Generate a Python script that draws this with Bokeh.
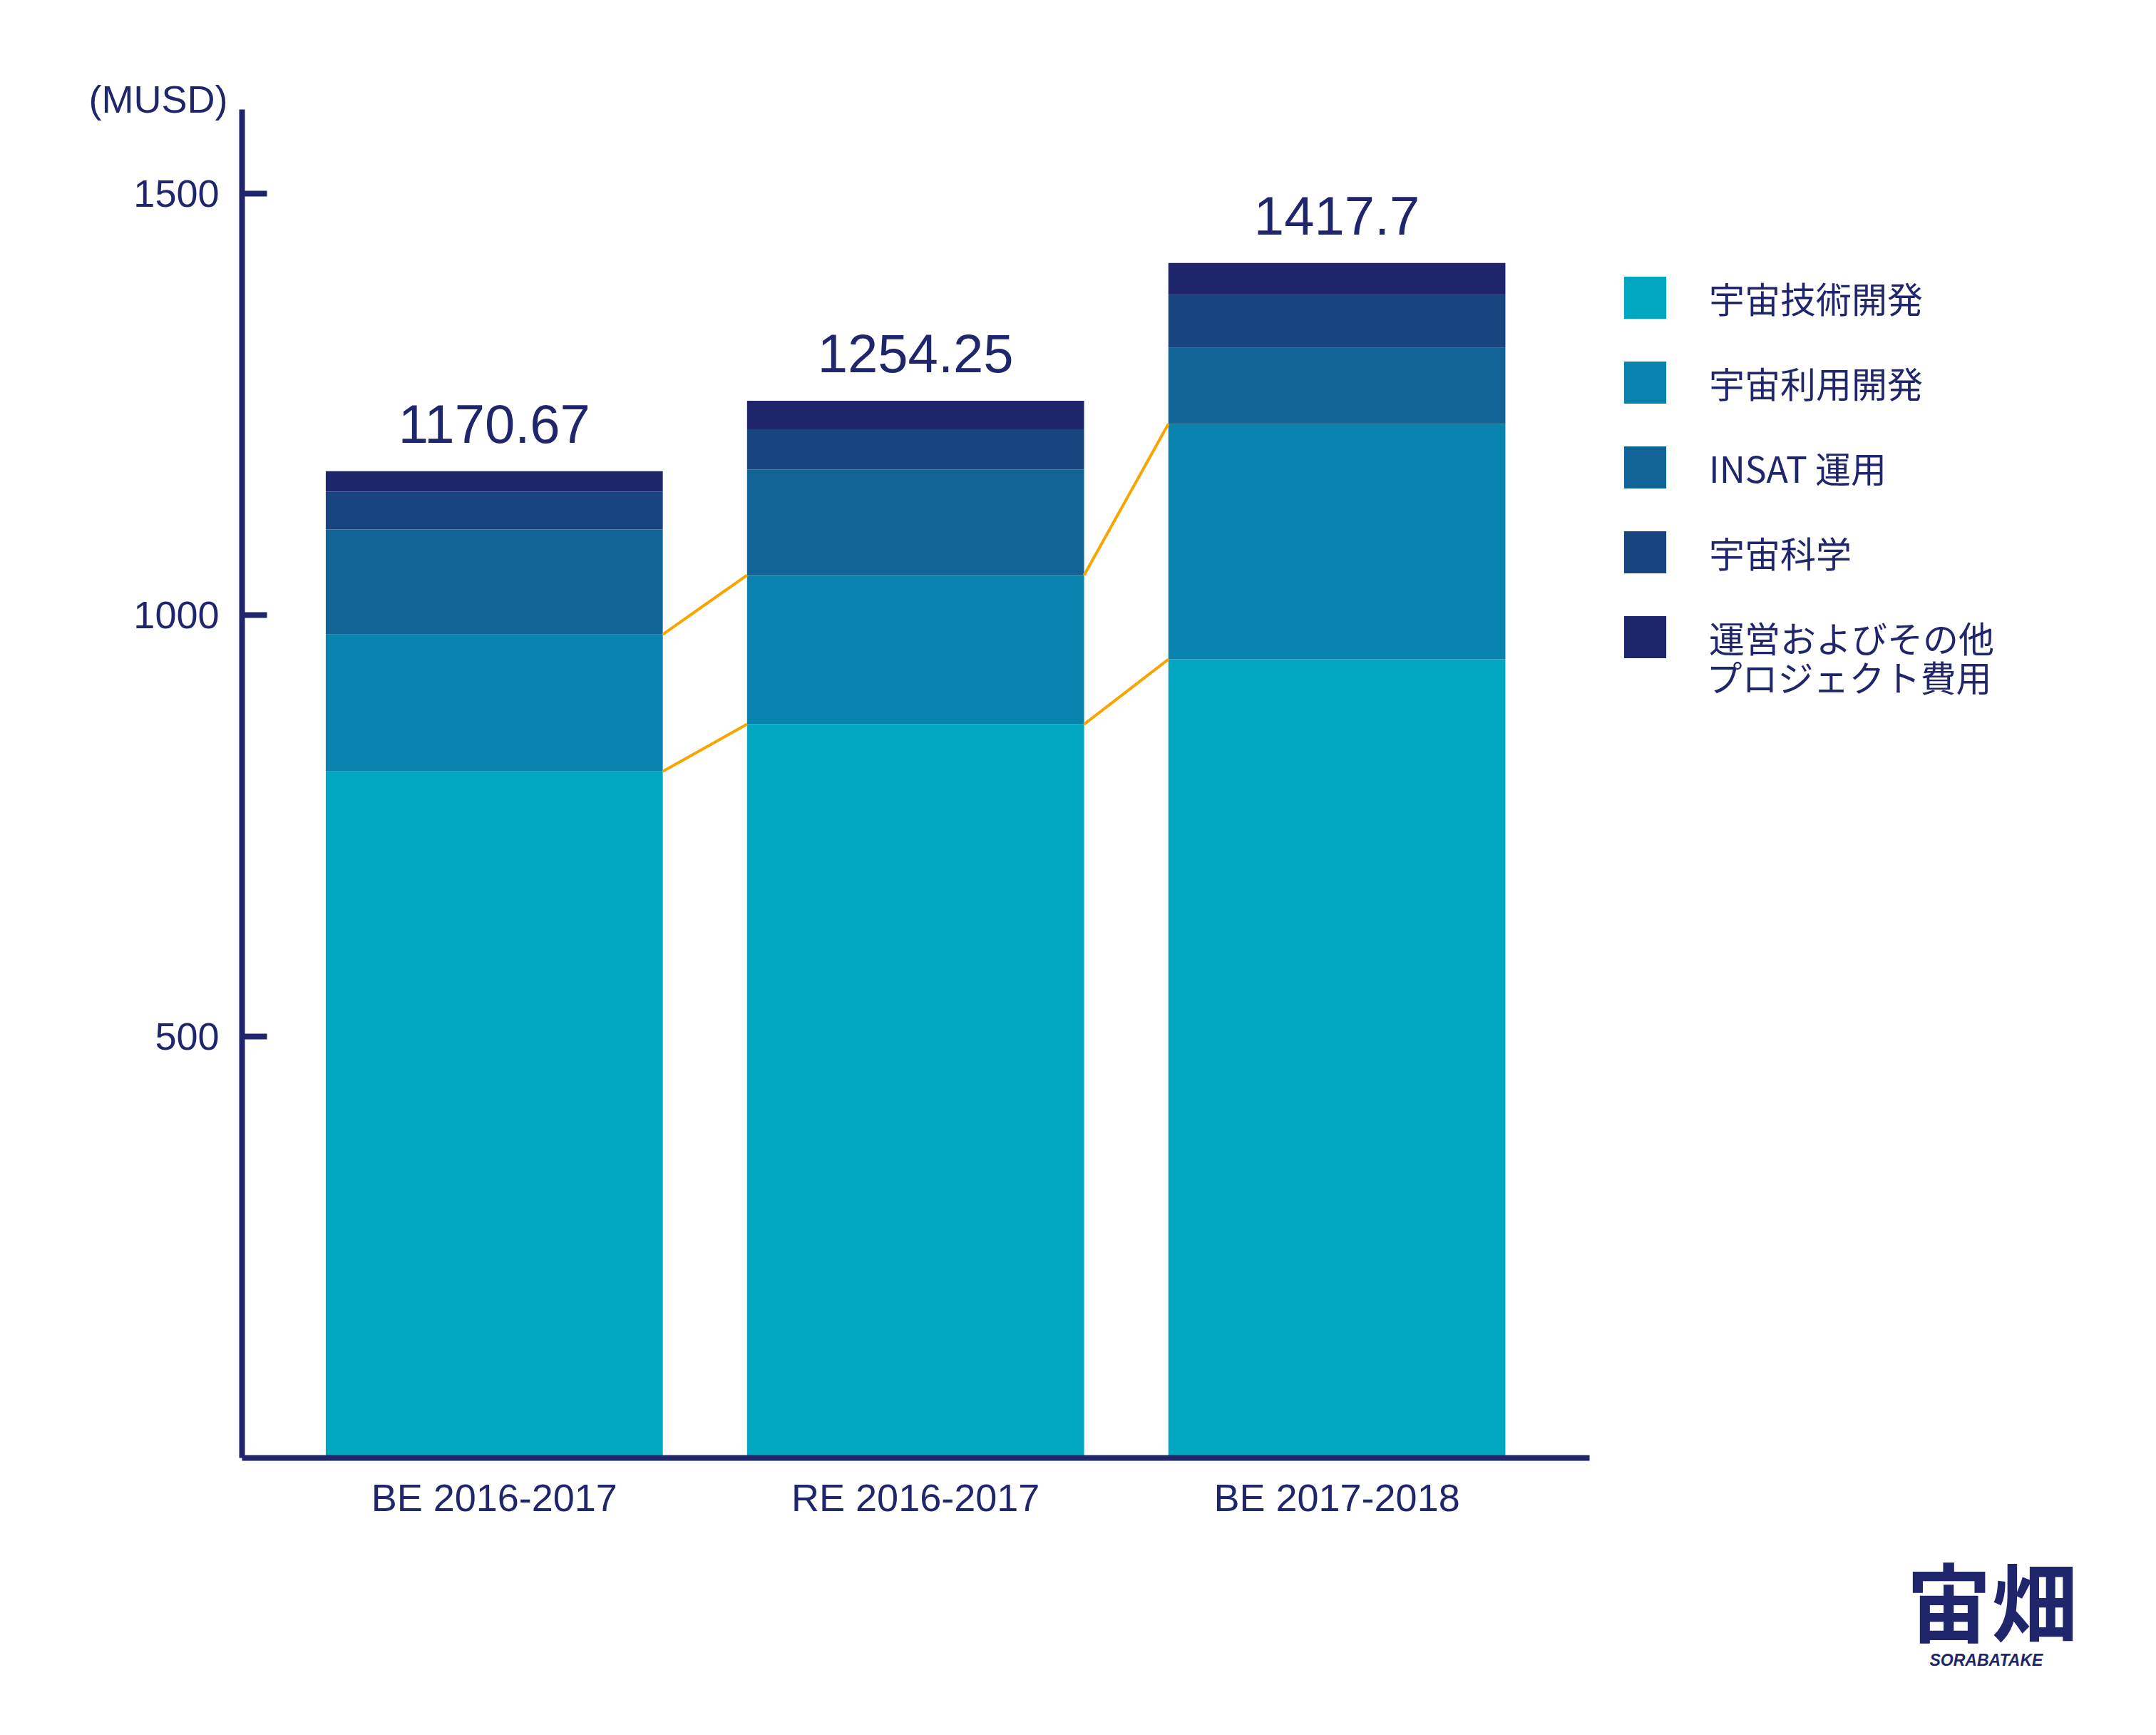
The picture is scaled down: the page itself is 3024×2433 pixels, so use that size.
from bokeh.plotting import figure
from bokeh.models import (ColumnDataSource, Range1d, FixedTicker, Legend,
                          LegendItem, Label)
from bokeh.core.properties import value
from bokeh.embed import file_html
from bokeh.resources import INLINE
import numpy as np

# ---------------- data ----------------
categories = ["BE 2016-2017", "RE 2016-2017", "BE 2017-2018"]
series_names = ["宇宙技術開発", "宇宙利用開発", "INSAT 運用", "宇宙科学",
                "運営およびその他\nプロジェクト費用"]
tech = [814.6, 870.5, 947.5]
application = [162.4, 176.8, 279.2]
insat = [124.5, 125.6, 90.3]
science = [44.8, 47.5, 62.6]
other = [24.37, 33.85, 38.1]
totals = [1170.67, 1254.25, 1417.7]
total_labels = ["1170.67", "1254.25", "1417.7"]
y_ticks = [500, 1000, 1500]
unit_label = "(MUSD)"
logo_text = "宙畑"
logo_sub = "SORABATAKE"

# ---------------- style / layout ----------------
colors = ["#01A6C1", "#0983AD", "#116495", "#184580", "#1F256B"]
navy = "#1F266B"
orange = "#F8A500"
latin = "Liberation Sans"
cjk = "Noto Sans CJK JP"
bar_width = 0.8
axis_x = (-0.5987, 2.5997)      # extent of the drawn x axis
axis_y = (0, 1600)              # extent of the drawn y axis

W, H = 3008, 2417
p = figure(width=W, height=H, output_backend="svg", toolbar_location=None,
           x_range=Range1d(-1.1724, 3.9181), y_range=Range1d(-315.6, 1729.3),
           min_border=0)
p.min_border_left = p.min_border_right = 0
p.min_border_top = p.min_border_bottom = 0
p.outline_line_color = None
p.xgrid.visible = False
p.ygrid.visible = False
p.background_fill_color = "white"
p.border_fill_color = "white"

xs = list(range(len(categories)))
keys = ["tech", "application", "insat", "science", "other"]
source = ColumnDataSource(dict(x=xs, tech=tech, application=application,
                               insat=insat, science=science, other=other))
renderers = p.vbar_stack(keys, x="x", width=bar_width, color=colors,
                         line_color=None, source=source)

# connector lines between bars (tops of first two stacks)
tech_a = np.array(tech)
app_top = tech_a + np.array(application)
xa = np.array(xs, dtype=float)
for tops in (tech_a, app_top):
    p.segment(x0=xa[:-1] + bar_width / 2, y0=tops[:-1],
              x1=xa[1:] - bar_width / 2, y1=tops[1:],
              line_color=orange, line_width=4)

# total labels
p.text(x=xs, y=totals, text=total_labels, text_align="center",
       text_baseline="alphabetic", y_offset=-66,
       text_font=value(latin), text_font_size="76px", text_color=navy)

# axes
for ax in (p.xaxis[0], p.yaxis[0]):
    ax.axis_line_color = navy
    ax.axis_line_width = 8
    ax.major_label_text_font = latin
    ax.major_label_text_font_size = "54px"
    ax.major_label_text_color = navy
    ax.minor_tick_line_color = None

p.xaxis.fixed_location = axis_y[0]
p.xaxis.bounds = axis_x
p.xaxis.ticker = FixedTicker(ticks=xs)
p.xaxis.major_label_overrides = {i: c for i, c in enumerate(categories)}
p.xaxis.major_tick_line_color = None
p.xaxis.major_label_standoff = 20

p.yaxis.fixed_location = axis_x[0]
p.yaxis.bounds = axis_y
p.yaxis.ticker = FixedTicker(ticks=y_ticks)
p.yaxis.major_tick_in = 35
p.yaxis.major_tick_out = 0
p.yaxis.major_tick_line_width = 8
p.yaxis.major_tick_line_color = navy
p.yaxis.major_label_standoff = 32

# unit label
p.add_layout(Label(x=-0.6326, y=1612.5, text=unit_label, text_align="right",
                   text_baseline="middle", text_font=latin,
                   text_font_size="54px", text_color=navy))

# legend (last entry's second line is set as its own text below the entry)
label_lines = [n.split("\n") for n in series_names]
items = [LegendItem(label=lines[0], renderers=[r])
         for lines, r in zip(label_lines, renderers)]
legend = Legend(items=items, location=(2270, 1487), orientation="vertical",
                glyph_width=74, glyph_height=74, label_height=59, spacing=45,
                label_standoff=53, padding=0, margin=0,
                border_line_color=None, background_fill_alpha=0,
                label_text_font=cjk, label_text_font_size="50px",
                label_text_color=navy)
p.add_layout(legend, "center")
for lines in label_lines:
    for line in lines[1:]:
        p.add_layout(Label(x=2.8773, y=928, text=line, text_align="left",
                           text_baseline="middle", text_font=cjk,
                           text_font_size="50px", text_color=navy))

# logo
p.add_layout(Label(x=3.5542, y=-167.5, text=logo_text, text_align="center",
                   text_baseline="middle", text_font=cjk,
                   text_font_size="120px", text_font_style="bold",
                   text_color=navy))
p.add_layout(Label(x=3.5415, y=-239.8, text=logo_sub, text_align="center",
                   text_baseline="middle", text_font=latin,
                   text_font_size="23px", text_font_style="bold italic",
                   text_color=navy))

open("out.html", "w").write(file_html(p, INLINE))
